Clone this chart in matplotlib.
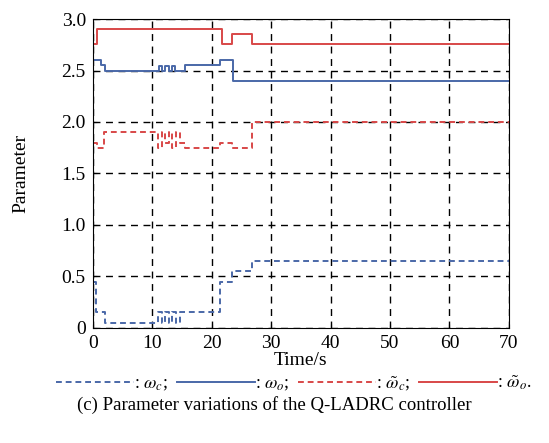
import matplotlib.pyplot as plt
from matplotlib.lines import Line2D

plt.rcParams['font.family'] = ['Liberation Serif', 'DejaVu Serif']
plt.rcParams['mathtext.fontset'] = 'stix'

# step data (time in s, parameter value)
t_wc = [0, 0.6, 2.0, 11.0, 11.6, 12.2, 12.8, 13.4, 14.0, 14.6, 15.5, 21.4, 23.5, 26.7, 70]
wc = [0.45, 0.15, 0.05, 0.15, 0.05, 0.15, 0.05, 0.15, 0.05, 0.15, 0.15, 0.45, 0.55, 0.65, 0.65]

t_wo = [0, 1.3, 2.0, 11.1, 11.6, 12.2, 12.8, 13.3, 13.9, 15.5, 21.4, 23.6, 70]
wo = [2.6, 2.55, 2.5, 2.54, 2.5, 2.54, 2.5, 2.54, 2.5, 2.55, 2.6, 2.4, 2.4]

t_wc_t = [0, 0.7, 1.9, 11.0, 11.6, 12.2, 12.8, 13.4, 14.0, 14.6, 15.5, 21.4, 23.5, 26.7, 70]
wc_t = [1.8, 1.75, 1.9, 1.75, 1.9, 1.8, 1.9, 1.75, 1.9, 1.8, 1.75, 1.8, 1.75, 2.0, 2.0]

t_wo_t = [0, 0.7, 21.7, 23.5, 26.7, 70]
wo_t = [2.76, 2.9, 2.76, 2.85, 2.76, 2.76]

blue = '#4a68a8'
red = '#d84848'

fig = plt.figure(figsize=(5.49, 4.43), dpi=100)
ax = fig.add_axes([0.169, 0.26, 0.758, 0.697])

ax.plot(t_wc, wc, drawstyle='steps-post', color=blue, ls=(0, (3, 2)), lw=1.4)
ax.plot(t_wo, wo, drawstyle='steps-post', color=blue, lw=1.4)
ax.plot(t_wc_t, wc_t, drawstyle='steps-post', color=red, ls=(0, (3, 2)), lw=1.4)
ax.plot(t_wo_t, wo_t, drawstyle='steps-post', color=red, lw=1.4)

ax.set_xlim(0, 70)
ax.set_ylim(0, 3.0)
ax.set_xticks(range(0, 71, 10))
ax.set_yticks([0, 0.5, 1.0, 1.5, 2.0, 2.5, 3.0])
ax.set_yticklabels(['0', '0.5', '1.0', '1.5', '2.0', '2.5', '3.0'])
ax.grid(True, color='black', ls=(0, (5, 4)), lw=1.0)
ax.tick_params(direction='in', length=3, labelsize=14, pad=5)
ax.set_xlabel('Time/s', fontsize=14, labelpad=0)
ax.set_ylabel('Parameter', fontsize=14, labelpad=23)

handles = [
    Line2D([], [], color=blue, ls=(0, (3, 2)), lw=1.4),
    Line2D([], [], color=blue, lw=1.4),
    Line2D([], [], color=red, ls=(0, (3, 2)), lw=1.4),
    Line2D([], [], color=red, lw=1.4),
]
labels = [r': $\omega_c$;', r': $\omega_o$;', r': $\tilde{\omega}_c$;', r': $\tilde{\omega}_o$.']
fig.legend(handles, labels, loc='center', bbox_to_anchor=(0.535, 0.135), ncol=4,
           frameon=False, handlelength=4.3, handletextpad=0.0, columnspacing=0.5,
           fontsize=13)

fig.text(0.5, 0.086, '(c) Parameter variations of the Q-LADRC controller',
         ha='center', va='center', fontsize=13.5)

plt.savefig('out.png', dpi=100)
